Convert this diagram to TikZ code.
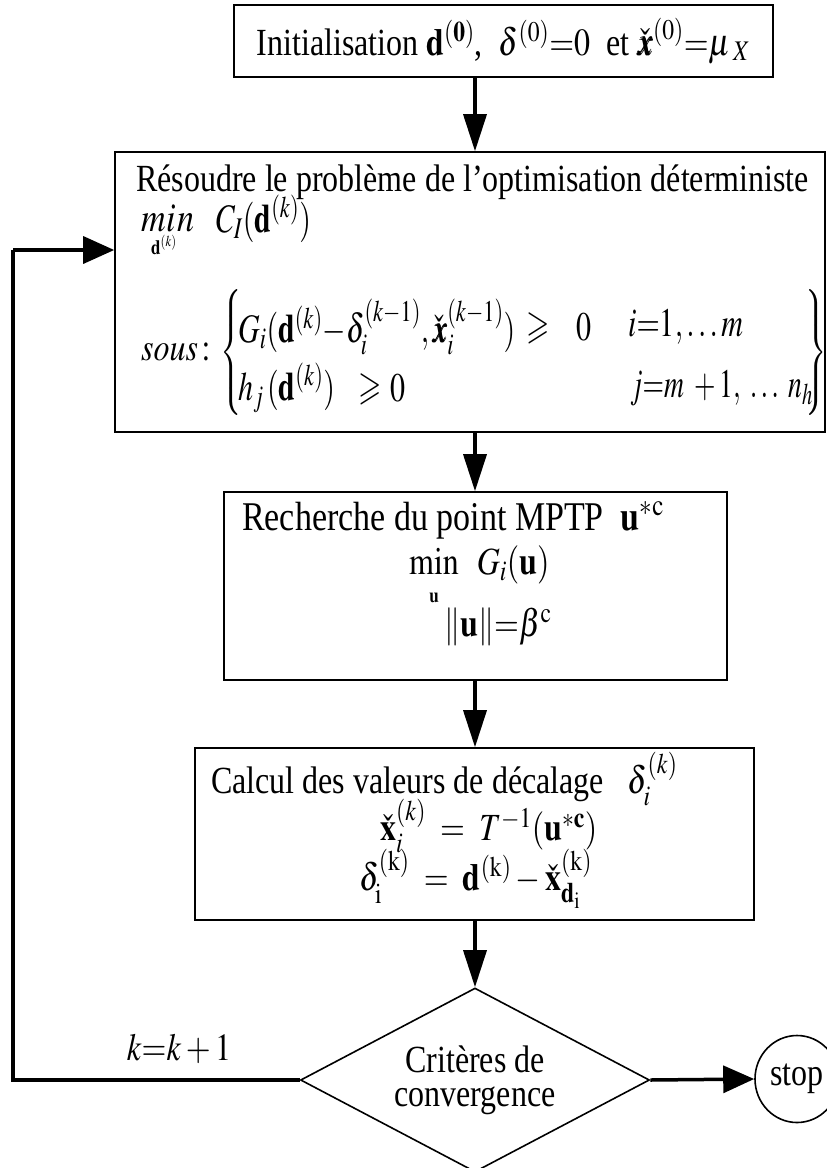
\documentclass[tikz,border=0pt]{standalone}
\usepackage{amsmath}
\usepackage{mathptmx}
\usepackage{amssymb}
\usepackage{bm}
\usepackage{graphicx}
\usepackage{fontspec}
\setmainfont{Liberation Serif}
\usetikzlibrary{shapes.geometric,arrows.meta}
\newcommand{\vs}[1]{\scalebox{1}[1.2]{#1}}
\newcommand{\ms}[1]{\scalebox{1}[1.35]{#1}}
\begin{document}
\begin{tikzpicture}[x=1pt,y=-1pt,
  every node/.style={font=\fontsize{32}{36}\selectfont},
  box/.style={draw, line width=1.6pt, inner sep=0pt},
  varr/.style={line width=3.5pt, -{Triangle[length=37pt,width=23pt]}},
  harr/.style={line width=3.5pt, -{Triangle[length=31pt,width=27pt]}},
  loopline/.style={line width=3.5pt},
  txt/.style={inner sep=0pt, anchor=west},
  ctr/.style={inner sep=0pt},
  mth/.style={inner sep=0pt, font=\fontsize{30}{34}\selectfont},
  tiny/.style={inner sep=0pt, font=\fontsize{17}{19}\selectfont}
]
\clip (0,0) rectangle (827,1168);
\fill[white] (0,0) rectangle (827,1168);

% boxes
\node[box, minimum width=539pt, minimum height=72pt] (init) at (503.5,41)
  {\vs{Initialisation $\mathbf{d}^{\mathbf{(0)}}$,\ \ $\delta^{(0)}{=}0$\ \ et $\check{\bm{x}}^{(0)}{=}\mu_{\;X}$}};
\node[box, minimum width=710pt, minimum height=280pt] (solve) at (470,292) {};
\node[box, minimum width=503pt, minimum height=188pt] (mptp) at (475.5,586) {};
\node[box, minimum width=559pt, minimum height=172pt] (calc) at (474.5,834) {};
\node[draw, diamond, line width=1.6pt, minimum width=349pt, minimum height=184pt,
  aspect=1.9, inner sep=0pt, align=center, font=\fontsize{32}{34}\selectfont] (dia) at (475,1080)
  {\vs{Critères de}\\\vs{convergence}};
\node[draw, ellipse, line width=1.6pt, minimum width=84pt, minimum height=87pt, inner sep=0pt] (stop) at (797,1079) {\vs{stop}};

% texts of box 2
\node[txt] (t2a) at (136,182) {\vs{Résoudre le problème de l'optimisation déterministe}};
\node[txt, font=\fontsize{34}{38}\selectfont] (t2min) at (141,218) {\vs{$m\hspace{1pt}i\hspace{1pt}n$}};
\node[mth, anchor=west] (t2c) at (216,219) {\ms{$C_I(\mathbf{d}^{(k)})$}};
\node[tiny] (t2sub) at (164,245) {\vs{$\mathbf{d}^{(k)}$}};
\node[txt] (t2d) at (141,352) {\vs{$sous\!:$}};
\node[mth] (lbr) at (232,352) {\scalebox{0.8}[1]{$\left\{\vcenter{\hbox{\rule{0pt}{128pt}}}\right.$}};
\node[mth] (rbr) at (816,352) {\scalebox{0.8}[1]{$\left.\vcenter{\hbox{\rule{0pt}{128pt}}}\right\}$}};
\node[mth, anchor=west] (gexp) at (238,327) {\ms{$G_i(\mathbf{d}^{(k)}{-}\delta_i^{(k-1)},\check{\bm{x}}_i^{(k-1)})$}};
\node[mth] (ge1) at (538,328) {\ms{$\geqslant$}};
\node[mth] (z1) at (584,327) {\ms{$0$}};
\node[mth, anchor=west] (ir) at (628,327) {\ms{$i{=}1,\ldots m$}};
\node[mth, anchor=west] (hexp) at (238,388) {\ms{$h_j\,(\mathbf{d}^{(k)})$}};
\node[mth] (ge2) at (370,389) {\ms{$\geqslant$}};
\node[mth] (z2) at (398,388) {\ms{$0$}};
\node[mth, anchor=west] (jr) at (630,388) {\scalebox{0.92}[1.35]{$j{=}m\;+1,\;\ldots\;n_h$}};

% texts of box 3
\node[txt, font=\fontsize{34}{38}\selectfont] (t3a) at (242,520) {\vs{Recherche du point MPTP\ \ $\mathbf{u}^{*\mathrm{c}}$}};
\node[txt] (t3b) at (409,565) {\vs{$\min\;\;G_i(\mathbf{u})$}};
\node[tiny] (t3c) at (434,598) {\vs{$\mathbf{u}$}};
\node[ctr] (t3d) at (498,627) {\vs{$\|\mathbf{u}\|{=}\beta^{\mathrm{c}}$}};

% texts of box 4
\node[txt] (t4a) at (211,779) {\vs{Calcul des valeurs de décalage\ \ \ $\delta_i^{(k)}$}};
\node[txt] (t4b) at (380,826) {\vs{$\check{\mathbf{x}}_i^{(k)}\;=\;T^{-1}(\mathbf{u}^{*\mathbf{c}})$}};
\node[txt] (t4c) at (359,879) {\vs{$\delta_{\mathrm{i}}^{(\mathrm{k})}\;=\;\mathbf{d}^{(\mathrm{k})}-\check{\mathbf{x}}_{\mathbf{d}_{\mathrm{i}}}^{(\mathrm{k})}$}};

% loop label
\node[ctr] (klab) at (179,1049) {\vs{$k{=}k+1$}};

% connectors
\draw[varr] (init.south -| dia.north) -- (solve.north -| dia.north);
\draw[varr] (solve.south -| dia.north) -- (mptp.north -| dia.north);
\draw[varr] (mptp.south -| dia.north) -- (calc.north -| dia.north);
\draw[varr] (calc.south -| dia.north) -- (dia.north);
\draw[harr] (dia.east) -- (stop.west);
\coordinate (c1) at (13,1080);
\coordinate (c2) at (13,250);
\draw[loopline] (dia.west) -- (c1) -- (c2);
\draw[harr] (c2) -- (solve.west |- c2);
\end{tikzpicture}
\end{document}
